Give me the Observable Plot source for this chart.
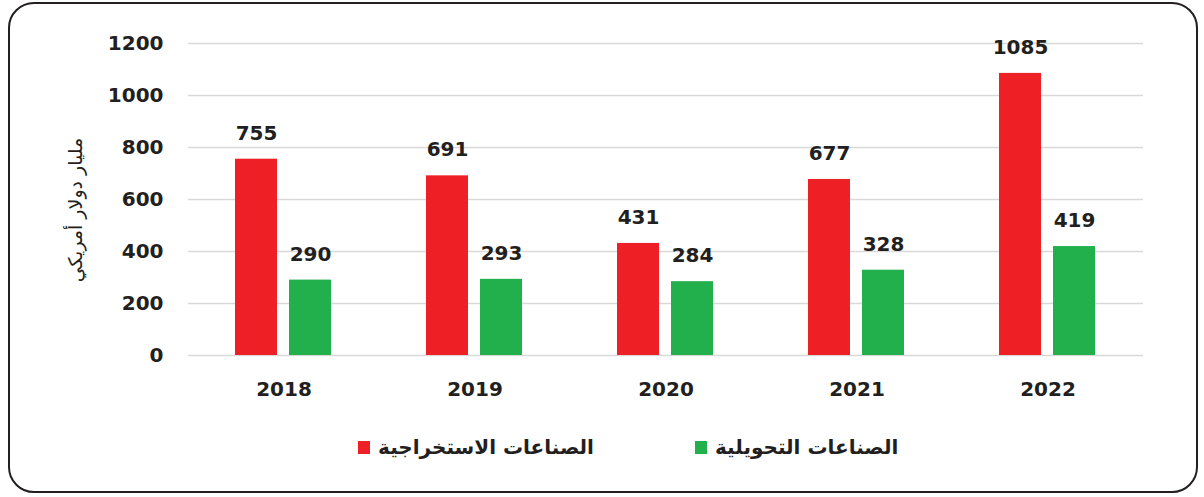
<!DOCTYPE html>
<html>
<head>
<meta charset="utf-8">
<script src="https://cdn.jsdelivr.net/npm/d3@7"></script>
<script src="https://cdn.jsdelivr.net/npm/@observablehq/plot@0.6"></script>
<style>
  html, body { margin: 0; padding: 0; background: #fff; }
  body { width: 1204px; height: 497px; position: relative; overflow: hidden; font-family: "DejaVu Sans", sans-serif; }
  #frame { position: absolute; left: 8px; top: 2px; width: 1190px; height: 491px; box-sizing: border-box;
           border: 2.5px solid #231f20; border-radius: 26px; }
  #chart { position: absolute; left: 0; top: 0; }
  #ytitle { position: absolute; left: 75px; top: 210px; transform: translate(-50%, -50%) rotate(-90deg);
            white-space: nowrap; font-family: "DejaVu Sans", sans-serif; font-size: 19px; color: #231f20; }
  #legend { position: absolute; left: 358px; top: 435px; display: flex; align-items: center; gap: 0; }
  .item { display: flex; align-items: center; }
  .sw { width: 12px; height: 13px; margin-right: 8px; }
  .lab { font-family: "DejaVu Sans", sans-serif; font-weight: bold; font-size: 20px; color: #231f20; }
</style>
</head>
<body>
<div id="frame"></div>
<div id="chart"></div>
<div id="ytitle" dir="rtl"></div>
<div id="legend"></div>
<script>
const years = ["2018", "2019", "2020", "2021", "2022"];
const seriesNames = ["الصناعات الاستخراجية", "الصناعات التحويلية"];
const extractive = [755, 691, 431, 677, 1085];
const manufacturing = [290, 293, 284, 328, 419];
const seriesColors = ["#ee1f25", "#21b04b"];
const yTicks = [0, 200, 400, 600, 800, 1000, 1200];
const yTitle = "مليار دولار أمريكي";

const table = [];
years.forEach((y, i) => {
  table.push({year: y, series: seriesNames[0], value: extractive[i]});
  table.push({year: y, series: seriesNames[1], value: manufacturing[i]});
});

const chart = Plot.plot({
  width: 1204,
  height: 410,
  marginLeft: 188,
  marginRight: 61,
  marginTop: 43,
  marginBottom: 55,
  style: {fontFamily: "DejaVu Sans, sans-serif", background: "transparent", color: "#231f20"},
  facet: {data: table, x: "year", label: null},
  fx: {domain: years, padding: 0, axis: "bottom", tickSize: 0, tickPadding: 26, label: null},
  x: {domain: seriesNames, axis: null, paddingInner: 0.218, paddingOuter: 0.8545},
  y: {domain: [0, 1200], ticks: yTicks, tickFormat: d => String(d), tickSize: 0, tickPadding: 25, label: null},
  color: {domain: seriesNames, range: seriesColors},
  marks: [
    Plot.ruleY(yTicks, {stroke: "#d9d9d9", strokeWidth: 1.5}),
    Plot.barY(table, {x: "series", y: "value", fill: "series"}),
    Plot.text(table, {x: "series", y: "value", text: d => String(d.value), dy: -26,
      fontSize: 20, fontWeight: "bold", fill: "#231f20"})
  ]
});

d3.select(chart).selectAll("g[aria-label='y-axis'] text, g[aria-label='fx-axis'] text, g[aria-label='y-axis tick label'] text, g[aria-label='fx-axis tick label'] text")
  .style("font-size", "20px").style("font-weight", "bold").attr("fill", "#231f20");
document.getElementById("chart").appendChild(chart);
document.getElementById("ytitle").textContent = yTitle;

const legend = document.getElementById("legend");
seriesNames.forEach((name, i) => {
  const item = document.createElement("div");
  item.className = "item";
  if (i > 0) item.style.marginLeft = "101px";
  const sw = document.createElement("div");
  sw.className = "sw";
  sw.style.background = seriesColors[i];
  const lab = document.createElement("span");
  lab.className = "lab";
  lab.dir = "rtl";
  lab.textContent = name;
  item.appendChild(sw);
  item.appendChild(lab);
  legend.appendChild(item);
});
</script>
</body>
</html>
